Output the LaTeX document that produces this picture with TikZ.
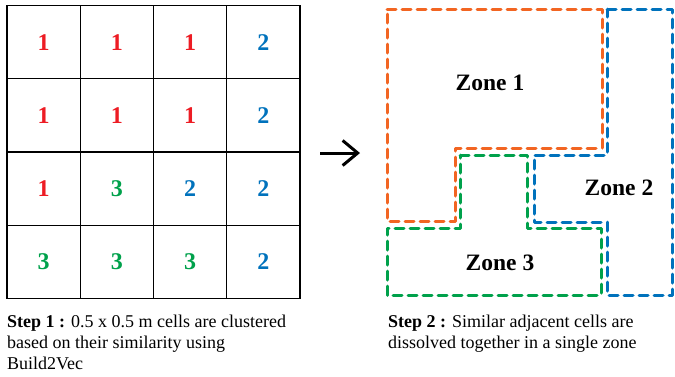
\documentclass[tikz,border=0pt]{standalone}
\usepackage{fontspec}
\setmainfont{Liberation Serif}
\usetikzlibrary{arrows.meta}
\definecolor{cred}{HTML}{ED1C24}
\definecolor{cgreen}{HTML}{00A14B}
\definecolor{cblue}{HTML}{0072BC}
\definecolor{zorange}{HTML}{F26522}
\definecolor{zblue}{HTML}{0072BC}
\definecolor{zgreen}{HTML}{00A14B}
\begin{document}
\begin{tikzpicture}[x=1pt,y=-1pt,
 cell/.style={draw=black, line width=1.4pt, minimum size=73.25pt, inner sep=0pt, font=\fontsize{24}{24}\selectfont\bfseries},
 zone/.style={line width=3pt, dash pattern=on 9pt off 6pt, line cap=round, line join=round},
 zlabel/.style={font=\fontsize{23.5}{23.5}\selectfont\bfseries, inner sep=0pt},
 steptext/.style={anchor=base west, align=left, inner sep=0pt, font=\fontsize{18}{21}\selectfont}]
\useasboundingbox (0,0) rectangle (675,376);
\foreach \v/\c [count=\k from 0] in {1/cred,1/cred,1/cred,2/cblue,1/cred,1/cred,1/cred,2/cblue,1/cred,3/cgreen,2/cblue,2/cblue,3/cgreen,3/cgreen,3/cgreen,2/cblue} {
  \pgfmathtruncatemacro\col{mod(\k,4)}
  \pgfmathtruncatemacro\row{div(\k,4)}
  \node[cell, text=\c] (c\row\col) at ({43.6+73.25*\col},{42.1+73.25*\row}) {\v};
}
\coordinate (a1) at (320,153);
\coordinate (a2) at (360,153);
\draw[line width=3pt, -{Straight Barb[length=15pt,width=25pt]}] (a1) -- (a2);
% zones
\draw[zone, zorange] (387,9) -- (602,9) -- (602,148) -- (455,148) -- (455,221) -- (387,221) -- cycle;
\draw[zone, zblue] (607,9) -- (672,9) -- (672,295) -- (607,295) -- (607,222) -- (534,222) -- (534,155) -- (607,155) -- cycle;
\draw[zone, zgreen] (460,155) -- (527,155) -- (527,228) -- (601,228) -- (601,295) -- (387,295) -- (387,228) -- (460,228) -- cycle;
\node[zlabel] (z1) at (490,83) {Zone 1};
\node[zlabel] (z2) at (619,188) {Zone 2};
\node[zlabel] (z3) at (500,263) {Zone 3};
\node[steptext] (s1) at (7,369) {\textbf{Step 1 :} 0.5 x 0.5 m cells are clustered\\based on their similarity using\\Build2Vec};
\node[steptext] (s2) at (388,348) {\textbf{Step 2 :} Similar adjacent cells are\\dissolved together in a single zone};
\end{tikzpicture}
\end{document}
